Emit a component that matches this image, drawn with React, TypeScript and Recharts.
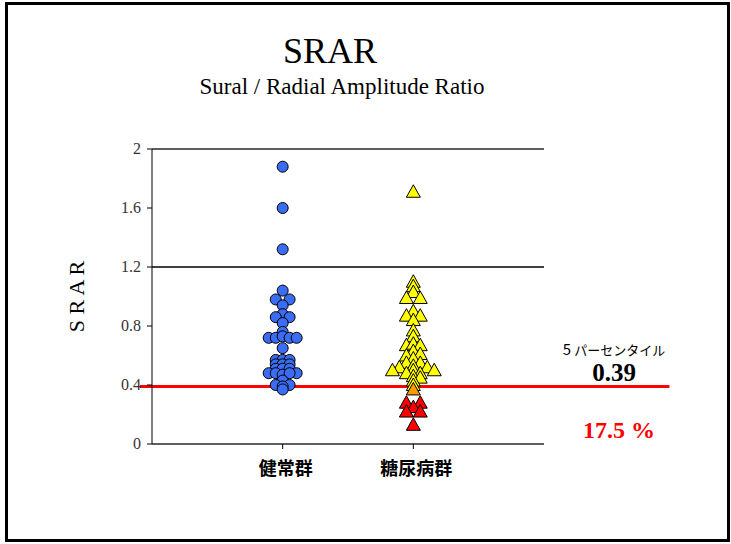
import { ScatterChart, Scatter, XAxis, YAxis, CartesianGrid, ReferenceLine } from 'recharts';

// x positions: 1 = 健常群, 2 = 糖尿病群 (small offsets spread overlapping marks)
const categories = ['健常群', '糖尿病群'];
const yTicks = [0, 0.4, 0.8, 1.2, 1.6, 2];

const healthyX = [1, 1, 1, 1, 0.947, 1.053, 1, 1, 0.947, 1.053, 1, 1, 0.893, 0.947, 1, 1.053, 1.107, 1, 0.947, 1, 1.053, 0.947, 1, 1.053, 0.947, 1, 1.053, 0.893, 1.107, 0.947, 1, 1.053, 1, 0.947, 1.053, 1, 1];
const healthyY = [1.88, 1.6, 1.32, 1.04, 0.98, 0.98, 0.94, 0.88, 0.86, 0.86, 0.82, 0.76, 0.72, 0.72, 0.73, 0.72, 0.72, 0.65, 0.57, 0.57, 0.57, 0.54, 0.54, 0.54, 0.51, 0.51, 0.51, 0.48, 0.48, 0.48, 0.47, 0.48, 0.43, 0.4, 0.4, 0.39, 0.37];

const diabetesX = [2, 2, 2, 2, 1.947, 2.053, 2, 1.947, 2.053, 2, 2, 2, 1.947, 2, 2.053, 2, 1.947, 2.053, 2, 1.947, 2.053, 1.893, 2, 2.107, 1.84, 2.16, 2, 1.947, 2.053, 2, 2.053, 2, 2];
const diabetesY = [1.71, 1.1, 1.07, 1.03, 0.99, 0.99, 0.9, 0.87, 0.87, 0.84, 0.77, 0.73, 0.67, 0.68, 0.67, 0.63, 0.6, 0.61, 0.58, 0.55, 0.55, 0.52, 0.53, 0.52, 0.5, 0.5, 0.5, 0.48, 0.48, 0.46, 0.45, 0.43, 0.4];

const belowX = [2];
const belowY = [0.37];
const lowX = [1.947, 2.053, 2, 1.947, 2.053, 2];
const lowY = [0.28, 0.28, 0.25, 0.22, 0.22, 0.13];

const percentile5 = 0.39;

const toPoints = (xs: number[], ys: number[]) => xs.map((x, i) => ({ x, y: ys[i] }));

const circle = (fill: string) => (props: any) => (
    <circle cx={props.cx} cy={props.cy} r={5.5} fill={fill} stroke="#000" strokeWidth={1} />
);

const triangle = (fill: string) => (props: any) => {
    const { cx, cy } = props;
    return (
        <polygon
            points={`${cx},${cy - 7} ${cx - 7},${cy + 5.5} ${cx + 7},${cy + 5.5}`}
            fill={fill}
            stroke="#000"
            strokeWidth={1}
        />
    );
};

const serif = '"Liberation Serif", "DejaVu Serif", serif';
const gothic = '"Noto Sans CJK JP", "Noto Sans", sans-serif';

const YTick = ({ x, y, payload }: any) => (
    <text x={x - 4} y={y} dy={5} textAnchor="end" fontFamily={serif} fontSize={16} fill="#333">
        {String(payload.value)}
    </text>
);

const XTick = ({ x, y, payload }: any) => (
    <text x={x + 3} y={y} dy={24} textAnchor="middle" fontFamily={gothic} fontSize={18} fontWeight={700} fill="#000">
        {categories[payload.value - 1]}
    </text>
);

export default function App() {
    return (
        <div style={{ position: 'absolute', left: 0, top: 0, width: 731, height: 544, background: '#fff' }}>
            <div
                style={{
                    position: 'absolute',
                    left: 5,
                    top: 2,
                    width: 725,
                    height: 540,
                    border: '3px solid #000',
                    boxSizing: 'border-box',
                }}
            />
            <ScatterChart
                width={731}
                height={544}
                margin={{ top: 149, right: 187, bottom: 70, left: 92 }}
                style={{ position: 'absolute', left: 0, top: 0 }}
            >
                <CartesianGrid horizontal vertical={false} stroke="#777" />
                <XAxis
                    type="number"
                    dataKey="x"
                    domain={[0, 3]}
                    ticks={[1, 2]}
                    height={30}
                    axisLine={{ stroke: '#000' }}
                    tickLine={{ stroke: '#000' }}
                    tickSize={5}
                    tick={<XTick />}
                />
                <YAxis
                    yAxisId="l"
                    type="number"
                    dataKey="y"
                    domain={[0, 2]}
                    ticks={yTicks}
                    width={60}
                    axisLine={{ stroke: '#000' }}
                    tickLine={{ stroke: '#000' }}
                    tickSize={5}
                    tick={<YTick />}
                    label={{
                        value: 'S R A R',
                        angle: -90,
                        position: 'insideLeft',
                        offset: -16,
                        style: { fontSize: 22, fontFamily: serif, fill: '#000', textAnchor: 'middle' },
                    }}
                />
                <YAxis
                    yAxisId="r"
                    orientation="right"
                    type="number"
                    domain={[0, 2]}
                    ticks={yTicks}
                    tick={false}
                    tickLine={false}
                    width={0}
                    axisLine={{ stroke: '#888' }}
                />
                <ReferenceLine yAxisId="l" y={2} stroke="#000" />
                <ReferenceLine yAxisId="l" y={1.2} stroke="#000" strokeWidth={1.5} />
                <Scatter yAxisId="l" data={toPoints(healthyX, healthyY)} shape={circle('#3a6cf4')} isAnimationActive={false} />
                <Scatter yAxisId="l" data={toPoints(diabetesX, diabetesY)} shape={triangle('#ffff00')} isAnimationActive={false} />
                <Scatter yAxisId="l" data={toPoints(belowX, belowY)} shape={triangle('#ff9900')} isAnimationActive={false} />
                <Scatter yAxisId="l" data={toPoints(lowX, lowY)} shape={triangle('#ff0000')} isAnimationActive={false} />
                <ReferenceLine
                    yAxisId="l"
                    segment={[{ x: -0.092, y: percentile5 }, { x: 3.96, y: percentile5 }]}
                    stroke="#ff0000"
                    strokeWidth={3}
                    ifOverflow="visible"
                />
            </ScatterChart>
            <svg width={731} height={544} style={{ position: 'absolute', left: 0, top: 0, pointerEvents: 'none' }}>
                <text x={330} y={63} textAnchor="middle" fontFamily={serif} fontSize={36} fill="#000">SRAR</text>
                <text x={342} y={94} textAnchor="middle" fontFamily={serif} fontSize={23} fill="#000">Sural / Radial Amplitude Ratio</text>
                <text x={614} y={355} textAnchor="middle" fontFamily={gothic} fontSize={13} fill="#000">
                    <tspan fontSize={15}>5 </tspan>パーセンタイル
                </text>
                <text x={614} y={381} textAnchor="middle" fontFamily={serif} fontSize={25} fontWeight={700} fill="#000">
                    {percentile5.toFixed(2)}
                </text>
                <text x={619} y={438} textAnchor="middle" fontFamily={serif} fontSize={24} fontWeight={700} fill="#ff0000">17.5 %</text>
            </svg>
        </div>
    );
}
